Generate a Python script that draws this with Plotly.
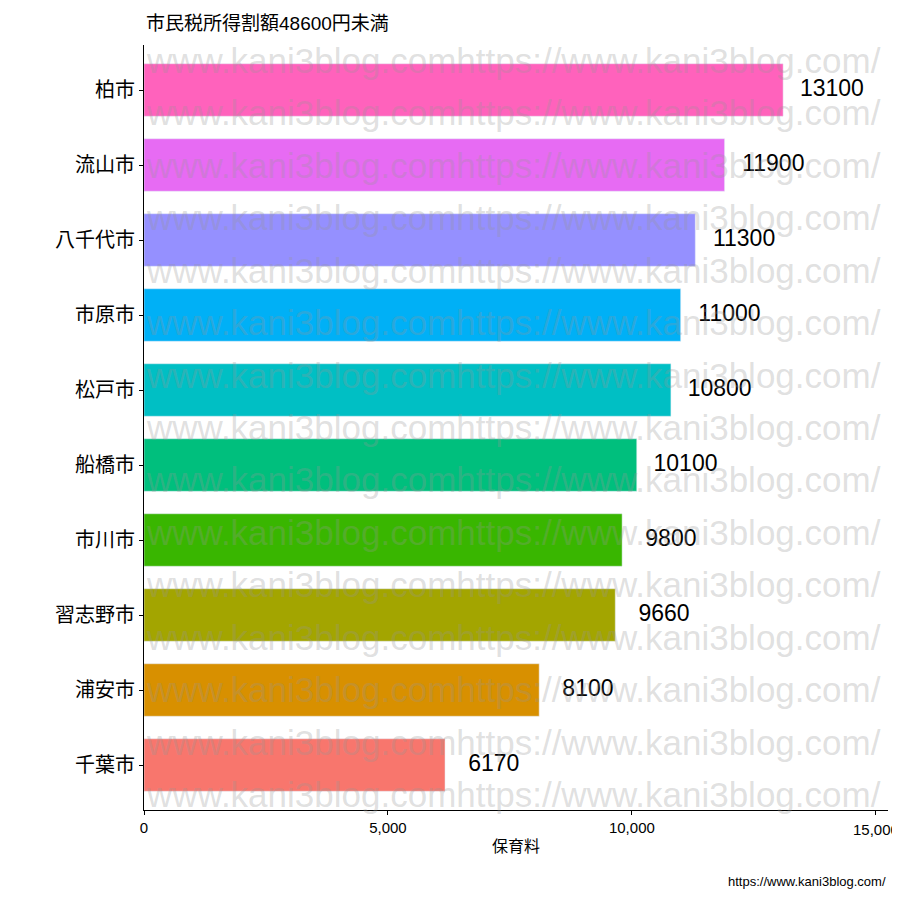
import plotly.graph_objects as go

cities = ["千葉市", "浦安市", "習志野市", "市川市", "船橋市", "松戸市", "市原市", "八千代市", "流山市", "柏市"]
fees = [6170, 8100, 9660, 9800, 10100, 10800, 11000, 11300, 11900, 13100]
colors = ["#F8766D", "#D89000", "#A3A500", "#39B600", "#00BF7D", "#00BFC4", "#00B0F6", "#9590FF", "#E76BF3", "#FF62BC"]
label_offset = 1000

fig = go.Figure()
fig.add_trace(go.Bar(x=fees, y=list(range(len(cities))), orientation="h", marker_color=colors,
                     width=0.7, showlegend=False, hoverinfo="skip"))
fig.add_trace(go.Scatter(x=[v + label_offset for v in fees], y=list(range(len(cities))), mode="text",
                         text=[str(v) for v in fees], textfont=dict(size=23, color="black"),
                         showlegend=False, hoverinfo="skip"))

anns = []
n = 15
for i in range(n):
    anns.append(dict(xref="paper", yref="paper", x=0, y=0.02 + i * (0.98 - 0.02) / (n - 1),
                     xanchor="left", yanchor="middle", showarrow=False,
                     text="www.kani3blog.comhttps://www.kani3blog.com/",
                     font=dict(size=35, color="rgba(150,150,150,0.3)", family="Liberation Sans")))
anns.append(dict(xref="paper", yref="paper", x=0, y=1.012, xanchor="left", yanchor="bottom", showarrow=False,
                 text="市民税所得割額48600円未満", font=dict(size=19, color="black")))
anns.append(dict(xref="paper", yref="paper", x=1.0, y=-0.094, xanchor="right", yanchor="middle", showarrow=False,
                 text="https://www.kani3blog.com/", font=dict(size=13, color="black")))
anns.append(dict(xref="x", yref="paper", x=15000, y=-0.012, xanchor="center", yanchor="top", showarrow=False,
                 text="15,000", font=dict(size=15, color="black")))
fig.update_layout(
    width=900, height=900, plot_bgcolor="white", paper_bgcolor="white",
    margin=dict(l=136, r=20, t=37, b=98, autoexpand=False), annotations=anns,
    font=dict(family="Liberation Sans, Noto Sans CJK JP", color="black"),
    xaxis=dict(range=[0, 15250], tickvals=[0, 5000, 10000, 15000], ticktext=["0", "5,000", "10,000", ""],
               showgrid=False, zeroline=False, showline=True, linecolor="black", ticks="outside",
               tickcolor="black", ticklen=4, tickfont=dict(size=15, color="black"), automargin=False,
               title=dict(text="保育料", font=dict(size=16), standoff=5)),
    yaxis=dict(range=[-0.6, 9.6], tickvals=list(range(len(cities))), ticktext=cities, automargin=False,
               showgrid=False, zeroline=False, showline=True, linecolor="black", ticks="outside",
               tickcolor="black", ticklen=4, tickfont=dict(size=20, color="black")),
)
fig.write_html("out.html")
